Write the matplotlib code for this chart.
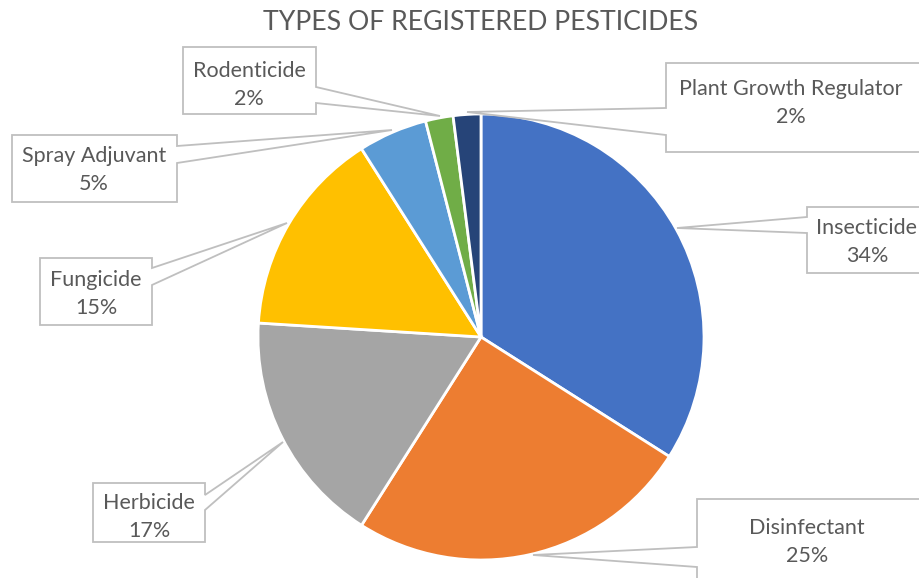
import matplotlib.pyplot as plt
from matplotlib.patches import Polygon

# pesticide registrations by type (percent)
labels = ['Insecticide', 'Disinfectant', 'Herbicide', 'Fungicide',
          'Spray Adjuvant', 'Rodenticide', 'Plant Growth Regulator']
shares = [34, 25, 17, 15, 5, 2, 2]
colors = ['#4472C4', '#ED7D31', '#A5A5A5', '#FFC000',
          '#5B9BD5', '#70AD47', '#264478']

W, H = 920, 578
plt.rcParams['font.family'] = ['Lato', 'DejaVu Sans']
fig = plt.figure(figsize=(W / 100, H / 100), dpi=100)
ax = fig.add_axes([0, 0, 1, 1])

def py(y):
    # pixel row -> data y
    return H - y

cx, cy, r = 481, 337, 223
ax.pie(shares, colors=colors, startangle=90, counterclock=False,
       center=(cx, py(cy)), radius=r,
       wedgeprops=dict(edgecolor='white', linewidth=2))

# callout boxes: (x0, y0, x1, y1), side of wedge, wedge y range, tip, text pos
callouts = {
    'Insecticide':   ((807, 207, 940, 273), 'left', (217, 233), (677, 228), (867, 242)),
    'Disinfectant':  ((697, 499, 940, 600), 'left', (547, 567), (533, 555), (807, 542)),
    'Herbicide':     ((93, 483, 205, 542), 'right', (495, 510), (283, 442), (149, 517)),
    'Fungicide':     ((40, 258, 152, 325), 'right', (268, 285), (287, 223), (96, 294)),
    'Spray Adjuvant': ((12, 135, 177, 202), 'right', (146, 163), (392, 130), (94, 170)),
    'Rodenticide':   ((183, 47, 316, 114), 'right', (87, 103), (440, 116), (249, 85)),
    'Plant Growth Regulator': ((666, 63, 940, 152), 'left', (108, 135), (467, 112), (791, 103)),
}

for lab, val in zip(labels, shares):
    (x0, y0, x1, y1), side, (a, b), (tx, ty), (lx, ly) = callouts[lab]
    if side == 'right':
        pts = [(x0, y0), (x1, y0), (x1, a), (tx, ty), (x1, b), (x1, y1), (x0, y1)]
    else:
        pts = [(x0, y0), (x1, y0), (x1, y1), (x0, y1), (x0, b), (tx, ty), (x0, a)]
    pts = [(x, py(y)) for x, y in pts]
    ax.add_patch(Polygon(pts, closed=True, facecolor='white',
                         edgecolor='#BFBFBF', linewidth=1.3, zorder=3))
    ax.text(lx, py(ly), f'{lab}\n{val}%', ha='center', va='center',
            fontsize=15.5, color='#595959', linespacing=1.45, zorder=4)

ax.text(481, py(23), 'TYPES OF REGISTERED PESTICIDES', ha='center', va='center',
        fontsize=19.2, color='#595959')

ax.set_xlim(0, W)
ax.set_ylim(0, H)
ax.set_aspect('equal')
ax.axis('off')

fig.savefig('out.png', dpi=100)
